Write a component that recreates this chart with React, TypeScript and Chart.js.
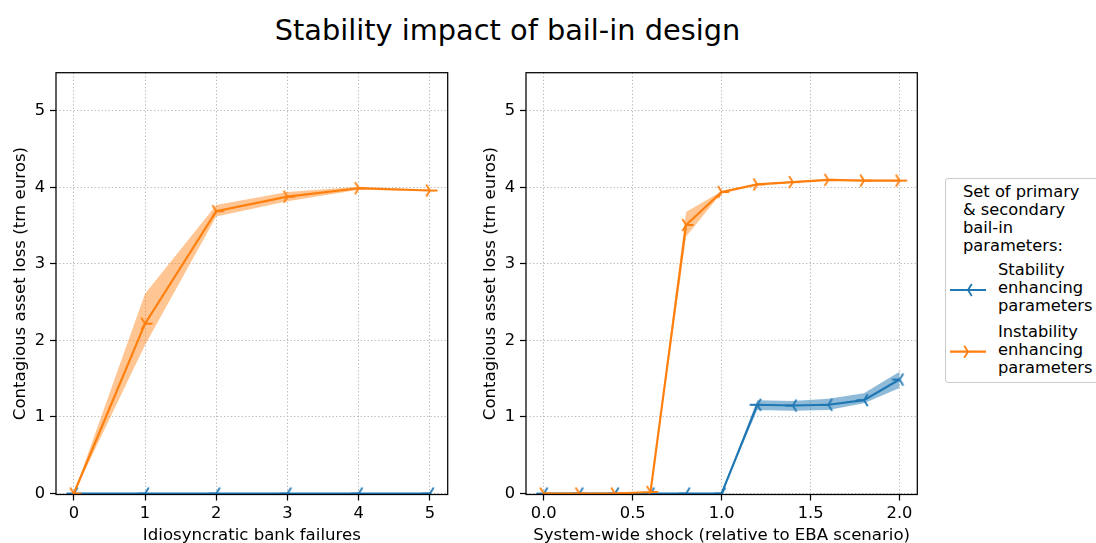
import React, { useEffect, useRef } from "react";
import { Chart, registerables } from "chart.js";

Chart.register(...registerables);

const FONT = "'DejaVu Sans', 'Liberation Sans', sans-serif";
const BLUE = "#1f77b4";
const ORANGE = "#ff7f0e";
const BLUE_BAND = "rgba(31,119,180,0.5)";
const ORANGE_BAND = "rgba(255,127,14,0.45)";

// Left panel: number of idiosyncratic bank failures
const failureCounts = [0, 1, 2, 3, 4, 5];
const failStableMean = [0, 0, 0, 0, 0, 0];
const failStableLow = [0, 0, 0, 0, 0, 0];
const failStableHigh = [0, 0, 0, 0, 0, 0];
const failUnstableMean = [0, 2.22, 3.69, 3.88, 3.99, 3.96];
const failUnstableLow = [0, 1.94, 3.62, 3.82, 3.97, 3.95];
const failUnstableHigh = [0, 2.61, 3.77, 3.94, 4.01, 3.97];

// Right panel: system-wide shock relative to the EBA scenario
const shockLevels = [0, 0.2, 0.4, 0.6, 0.8, 1.0, 1.2, 1.4, 1.6, 1.8, 2.0];
const shockStableMean = [0, 0, 0, 0, 0, 0, 1.16, 1.15, 1.16, 1.22, 1.49];
const shockStableLow = [0, 0, 0, 0, 0, 0, 1.09, 1.08, 1.09, 1.18, 1.38];
const shockStableHigh = [0, 0, 0, 0, 0, 0, 1.22, 1.21, 1.24, 1.31, 1.59];
const shockUnstableMean = [0, 0, 0, 0.02, 3.51, 3.94, 4.04, 4.07, 4.1, 4.09, 4.09];
const shockUnstableLow = [0, 0, 0, 0.02, 3.36, 3.93, 4.03, 4.06, 4.09, 4.08, 4.08];
const shockUnstableHigh = [0, 0, 0, 0.02, 3.68, 3.95, 4.05, 4.08, 4.11, 4.1, 4.1];

const yTicks = [0, 1, 2, 3, 4, 5];
const failTicks = [0, 1, 2, 3, 4, 5];
const shockTicks = [0, 0.5, 1.0, 1.5, 2.0];

const TITLE = "Stability impact of bail-in design";
const Y_TITLE = "Contagious asset loss (trn euros)";
const FAIL_TITLE = "Idiosyncratic bank failures";
const SHOCK_TITLE = "System-wide shock (relative to EBA scenario)";
const LEGEND_TITLE = ["Set of primary", "& secondary", "bail-in", "parameters:"];
const STABLE_LABEL = ["Stability", "enhancing", "parameters"];
const UNSTABLE_LABEL = ["Instability", "enhancing", "parameters"];

const TICK_PX = 16.3;
const LABEL_PX = 16.6;
const LEGEND_PX = 16.3;
const CANVAS_H = 543;
const AREA_TOP = 72.7;
const AREA_BOTTOM = 494.5;
const MARKER_R = 7.5;
const MARKER_W = 1.8;

// Three-spoke marker; dir = 1 points right, dir = -1 points left.
function triMarker(color: string, dir: number): HTMLCanvasElement {
  const size = 22;
  const c = document.createElement("canvas");
  c.width = size;
  c.height = size;
  const ctx = c.getContext("2d")!;
  const cx = size / 2;
  const cy = size / 2;
  ctx.strokeStyle = color;
  ctx.lineWidth = MARKER_W;
  ctx.beginPath();
  ctx.moveTo(cx, cy);
  ctx.lineTo(cx + dir * MARKER_R, cy);
  ctx.moveTo(cx, cy);
  ctx.lineTo(cx - dir * 0.5 * MARKER_R, cy - 0.8 * MARKER_R);
  ctx.moveTo(cx, cy);
  ctx.lineTo(cx - dir * 0.5 * MARKER_R, cy + 0.8 * MARKER_R);
  ctx.stroke();
  return c;
}

const spinesPlugin = {
  id: "spines",
  afterDatasetsDraw(chart: any) {
    const { ctx, chartArea: a } = chart;
    ctx.save();
    ctx.strokeStyle = "#000";
    ctx.lineWidth = 1.25;
    ctx.strokeRect(a.left, a.top, a.right - a.left, a.bottom - a.top);
    ctx.restore();
  },
};

type Series = {
  xs: number[];
  mean: number[];
  low: number[];
  high: number[];
  color: string;
  band: string;
  marker: HTMLCanvasElement;
  order: number;
};

function seriesDatasets(s: Series) {
  const pts = (ys: number[]) => s.xs.map((x, i) => ({ x, y: ys[i] }));
  return [
    {
      data: pts(s.low),
      borderWidth: 0,
      pointRadius: 0,
      fill: false,
      order: s.order + 2,
    },
    {
      data: pts(s.high),
      borderWidth: 0,
      pointRadius: 0,
      backgroundColor: s.band,
      fill: "-1",
      order: s.order + 2,
    },
    {
      data: pts(s.mean),
      borderColor: s.color,
      borderWidth: 2.2,
      pointStyle: s.marker,
      pointRadius: 4,
      fill: false,
      order: s.order,
    },
  ];
}

type PanelSpec = {
  xMin: number;
  xMax: number;
  xTicks: number[];
  xFormat: (v: number) => string;
  xTitle: string;
  yWidth: number;
  yTitlePad: number;
  padRight: number;
  series: Series[];
};

function makePanel(canvas: HTMLCanvasElement, p: PanelSpec) {
  const datasets = p.series.flatMap(seriesDatasets);
  const gridOpts = {
    color: "#b8b8b8",
    lineWidth: 1,
    tickColor: "#000",
    tickLength: 6,
    tickWidth: 1.25,
  };
  return new Chart(canvas, {
    type: "line",
    data: { datasets: datasets as any },
    plugins: [spinesPlugin],
    options: {
      animation: false,
      responsive: false,
      maintainAspectRatio: false,
      events: [],
      layout: { padding: { top: AREA_TOP, right: p.padRight, left: 0, bottom: 0 } },
      elements: { line: { tension: 0 } },
      plugins: {
        legend: { display: false },
        tooltip: { enabled: false },
        filler: { propagate: false },
      },
      scales: {
        x: {
          type: "linear",
          min: p.xMin,
          max: p.xMax,
          afterBuildTicks: (s: any) => {
            s.ticks = p.xTicks.map((v) => ({ value: v }));
          },
          afterFit: (s: any) => {
            s.height = CANVAS_H - AREA_BOTTOM;
          },
          ticks: {
            color: "#000",
            font: { family: FONT, size: TICK_PX },
            padding: 3,
            maxRotation: 0,
            callback: (v: any) => p.xFormat(Number(v)),
          },
          grid: gridOpts,
          border: { display: false, dash: [1.3, 2.2] },
          title: {
            display: true,
            text: p.xTitle,
            color: "#000",
            font: { family: FONT, size: LABEL_PX, lineHeight: 0.8 },
            padding: { top: 0, bottom: 0.5 },
          },
        },
        y: {
          type: "linear",
          min: -0.013,
          max: 5.5,
          afterBuildTicks: (s: any) => {
            s.ticks = yTicks.map((v) => ({ value: v }));
          },
          afterFit: (s: any) => {
            s.width = p.yWidth;
          },
          ticks: {
            color: "#000",
            font: { family: FONT, size: TICK_PX },
            padding: 5,
            callback: (v: any) => String(v),
          },
          grid: gridOpts,
          border: { display: false, dash: [1.3, 2.2] },
          title: {
            display: true,
            text: Y_TITLE,
            color: "#000",
            font: { family: FONT, size: LABEL_PX, lineHeight: 1 },
            padding: { top: p.yTitlePad, bottom: 0 },
          },
        },
      },
    } as any,
  });
}

function LegendSample({ y, color, dir }: { y: number; color: string; dir: number }) {
  const cx = 968;
  const r = MARKER_R;
  return (
    <svg
      style={{ position: "absolute", left: 0, top: 0, overflow: "visible" }}
      width={1}
      height={1}
    >
      <line x1={950} y1={y} x2={986} y2={y} stroke={color} strokeWidth={2.2} />
      <path
        d={`M${cx} ${y} L${cx - dir * 0.5 * r} ${y - 0.8 * r} M${cx} ${y} L${cx - dir * 0.5 * r} ${y + 0.8 * r}`}
        stroke={color}
        strokeWidth={MARKER_W}
        fill="none"
      />
    </svg>
  );
}

export default function App() {
  const leftRef = useRef<HTMLCanvasElement>(null);
  const rightRef = useRef<HTMLCanvasElement>(null);

  useEffect(() => {
    Chart.defaults.font.family = FONT;
    const blueMarker = triMarker(BLUE, -1);
    const orangeMarker = triMarker(ORANGE, 1);

    const left = makePanel(leftRef.current!, {
      xMin: -0.25,
      xMax: 5.25,
      xTicks: failTicks,
      xFormat: (v) => String(v),
      xTitle: FAIL_TITLE,
      yWidth: 56,
      yTitlePad: 12,
      padRight: 460 - 447.7,
      series: [
        {
          xs: failureCounts,
          mean: failStableMean,
          low: failStableLow,
          high: failStableHigh,
          color: BLUE,
          band: BLUE_BAND,
          marker: blueMarker,
          order: 1,
        },
        {
          xs: failureCounts,
          mean: failUnstableMean,
          low: failUnstableLow,
          high: failUnstableHigh,
          color: ORANGE,
          band: ORANGE_BAND,
          marker: orangeMarker,
          order: 0,
        },
      ],
    });

    const right = makePanel(rightRef.current!, {
      xMin: -0.1,
      xMax: 2.1,
      xTicks: shockTicks,
      xFormat: (v) => v.toFixed(1),
      xTitle: SHOCK_TITLE,
      yWidth: 66,
      yTitlePad: 22,
      padRight: 930 - 917.3,
      series: [
        {
          xs: shockLevels,
          mean: shockStableMean,
          low: shockStableLow,
          high: shockStableHigh,
          color: BLUE,
          band: BLUE_BAND,
          marker: blueMarker,
          order: 1,
        },
        {
          xs: shockLevels,
          mean: shockUnstableMean,
          low: shockUnstableLow,
          high: shockUnstableHigh,
          color: ORANGE,
          band: ORANGE_BAND,
          marker: orangeMarker,
          order: 0,
        },
      ],
    });

    return () => {
      left.destroy();
      right.destroy();
    };
  }, []);

  const text: React.CSSProperties = {
    position: "absolute",
    fontFamily: FONT,
    fontSize: LEGEND_PX,
    lineHeight: "18.33px",
    color: "#000",
    whiteSpace: "nowrap",
  };

  return (
    <div
      style={{
        position: "absolute",
        left: 0,
        top: 0,
        width: 1096,
        height: CANVAS_H,
        overflow: "hidden",
        background: "#fff",
      }}
    >
      <div
        style={{
          position: "absolute",
          left: 0,
          top: 15.6,
          width: 1015,
          textAlign: "center",
          fontFamily: FONT,
          fontSize: 28.8,
          lineHeight: 1,
          color: "#000",
          whiteSpace: "nowrap",
        }}
      >
        {TITLE}
      </div>
      <canvas
        ref={leftRef}
        width={460}
        height={CANVAS_H}
        style={{ position: "absolute", left: 0, top: 0, width: 460, height: CANVAS_H }}
      />
      <canvas
        ref={rightRef}
        width={470}
        height={CANVAS_H}
        style={{ position: "absolute", left: 460, top: 0, width: 470, height: CANVAS_H }}
      />
      <div
        style={{
          position: "absolute",
          left: 945,
          top: 178,
          width: 170,
          height: 205,
          border: "1px solid #cccccc",
          borderRadius: 3,
          background: "rgba(255,255,255,0.8)",
          boxSizing: "border-box",
        }}
      />
      <div style={{ ...text, left: 963, top: 182.5 }}>
        {LEGEND_TITLE.map((l) => (
          <div key={l}>{l}</div>
        ))}
      </div>
      <LegendSample y={290} color={BLUE} dir={-1} />
      <div style={{ ...text, left: 998, top: 260.8 }}>
        {STABLE_LABEL.map((l) => (
          <div key={l}>{l}</div>
        ))}
      </div>
      <LegendSample y={351.7} color={ORANGE} dir={1} />
      <div style={{ ...text, left: 998, top: 322.5 }}>
        {UNSTABLE_LABEL.map((l) => (
          <div key={l}>{l}</div>
        ))}
      </div>
    </div>
  );
}
